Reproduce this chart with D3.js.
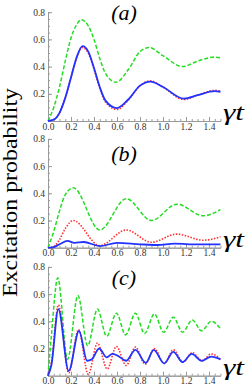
<!DOCTYPE html>
<html>
<head>
<meta charset="utf-8">
<script src="https://cdn.jsdelivr.net/npm/d3@7"></script>
<style>
  body { margin: 0; background: #fff; }
  .axis path, .axis line { stroke: #999; }
  .axis text { fill: #333; }
</style>
</head>
<body>
<script>
// Tick values
var xTicks = [0, 0.2, 0.4, 0.6, 0.8, 1.0, 1.2, 1.4];
var yTicks = [0.2, 0.4, 0.6, 0.8];
var panelLabels = ["(a)", "(b)", "(c)"];

// Panel (a): [gamma t, probability]
var aGreen = [[0,0],[0.05,0.1],[0.1,0.25],[0.15,0.44],[0.2,0.61],[0.25,0.71],[0.29,0.745],[0.35,0.7],[0.4,0.6],[0.45,0.46],[0.5,0.35],[0.59,0.285],[0.7,0.38],[0.8,0.51],[0.88,0.54],[1.0,0.48],[1.17,0.4],[1.3,0.44],[1.45,0.47],[1.5,0.465]];
var aRed = [[0,0],[0.05,0.01],[0.1,0.06],[0.15,0.17],[0.2,0.32],[0.25,0.47],[0.3,0.54],[0.35,0.5],[0.4,0.38],[0.45,0.24],[0.5,0.14],[0.6,0.085],[0.7,0.155],[0.8,0.26],[0.89,0.295],[1.0,0.25],[1.18,0.158],[1.3,0.19],[1.45,0.225],[1.5,0.22]];
var aBlue = [[0,0],[0.05,0.01],[0.1,0.06],[0.15,0.17],[0.2,0.32],[0.25,0.47],[0.3,0.55],[0.35,0.51],[0.4,0.39],[0.45,0.25],[0.5,0.15],[0.6,0.095],[0.7,0.16],[0.8,0.26],[0.89,0.29],[1.0,0.25],[1.18,0.165],[1.3,0.19],[1.45,0.22],[1.5,0.215]];

// Panel (b)
var bGreen = [[0,0],[0.05,0.12],[0.1,0.27],[0.15,0.39],[0.22,0.44],[0.45,0.13],[0.68,0.36],[0.9,0.2],[1.12,0.32],[1.35,0.235],[1.5,0.28]];
var bRed = [[0,0],[0.05,0.01],[0.1,0.06],[0.15,0.14],[0.22,0.2],[0.45,0.015],[0.68,0.13],[0.9,0.04],[1.12,0.1],[1.35,0.055],[1.5,0.08]];
var bBlue = [[0,0],[0.05,0.005],[0.1,0.025],[0.17,0.05],[0.23,0.035],[0.31,0.042],[0.45,0.012],[0.6,0.035],[0.8,0.025],[0.95,0.02],[1.1,0.03],[1.3,0.024],[1.5,0.025]];

// Panel (c)
var cGreen = [[0,0],[0.03,0.3],[0.085,0.72],[0.17,0.12],[0.26,0.59],[0.345,0.22],[0.43,0.49],[0.51,0.29],[0.595,0.46],[0.675,0.3],[0.76,0.46],[0.84,0.31],[0.925,0.455],[1.005,0.32],[1.09,0.43],[1.17,0.32],[1.255,0.41],[1.335,0.33],[1.42,0.4],[1.5,0.345]];
var cRed = [[0,0],[0.03,0.1],[0.09,0.52],[0.18,0.02],[0.265,0.34],[0.35,0.01],[0.43,0.24],[0.515,0.05],[0.595,0.215],[0.68,0.075],[0.76,0.21],[0.845,0.085],[0.925,0.2],[1.01,0.09],[1.09,0.19],[1.175,0.1],[1.255,0.17],[1.34,0.11],[1.42,0.16],[1.5,0.12]];
var cBlue = [[0,0],[0.03,0.08],[0.09,0.49],[0.18,0.035],[0.27,0.33],[0.34,0.11],[0.38,0.12],[0.445,0.2],[0.51,0.135],[0.56,0.16],[0.6,0.15],[0.68,0.11],[0.76,0.19],[0.85,0.095],[0.92,0.19],[1.01,0.09],[1.09,0.175],[1.17,0.1],[1.25,0.16],[1.335,0.11],[1.42,0.14],[1.5,0.12]];

var panels = [
  { label: panelLabels[0], base: 121, titleY: 20, green: aGreen, red: aRed, blue: aBlue },
  { label: panelLabels[1], base: 247.7, titleY: 161, green: bGreen, red: bRed, blue: bBlue },
  { label: panelLabels[2], base: 375.7, titleY: 285, green: cGreen, red: cRed, blue: cBlue }
];

var serif = "Liberation Serif";

var svgWidth = 245;
var svgHeight = 389;

var svg = d3.select("body")
  .append("svg")
  .attr("width", svgWidth)
  .attr("height", svgHeight);

// Shared x scale
var xScale = d3.scaleLinear()
  .domain([0, 1.5])
  .range([48, 220.5]);

var xMinor = d3.range(0, 1.5001, 0.05);
var yMinor = d3.range(0, 0.8001, 0.05);

panels.forEach(function(p) {
  var yScale = d3.scaleLinear()
    .domain([0, 0.8])
    .range([p.base, p.base - 108.8]);

  var g = svg.append("g");

  // minor ticks
  g.append("g")
    .classed("axis", true)
    .attr("transform", "translate(0," + p.base + ")")
    .call(d3.axisBottom(xScale).tickValues(xMinor).tickSize(-2).tickSizeOuter(0).tickFormat(""));
  g.append("g")
    .classed("axis", true)
    .attr("transform", "translate(" + xScale(0) + ",0)")
    .call(d3.axisLeft(yScale).tickValues(yMinor).tickSize(-2).tickSizeOuter(0).tickFormat(""));

  // major ticks
  g.append("g")
    .classed("axis", true)
    .attr("transform", "translate(0," + p.base + ")")
    .call(d3.axisBottom(xScale).tickValues(xTicks).tickSize(-4).tickSizeOuter(0).tickPadding(2).tickFormat(d3.format(".1f")))
    .attr("font-family", serif)
    .attr("font-size", 9.5);
  g.append("g")
    .classed("axis", true)
    .attr("transform", "translate(" + xScale(0) + ",0)")
    .call(d3.axisLeft(yScale).tickValues(yTicks).tickSize(-4).tickSizeOuter(0).tickPadding(3).tickFormat(d3.format(".1f")))
    .attr("font-family", serif)
    .attr("font-size", 9.5);

  var line = d3.line()
    .x(d => xScale(d[0]))
    .y(d => yScale(d[1]))
    .curve(d3.curveMonotoneX);

  g.append("path")
    .attr("d", line(p.green))
    .attr("fill", "none")
    .attr("stroke", "#22dd22")
    .attr("stroke-width", 1.5)
    .attr("stroke-dasharray", "4,2");

  g.append("path")
    .attr("d", line(p.red))
    .attr("fill", "none")
    .attr("stroke", "#ff3030")
    .attr("stroke-width", 1.6)
    .attr("stroke-dasharray", "1.5,1.5");

  g.append("path")
    .attr("d", line(p.blue))
    .attr("fill", "none")
    .attr("stroke", "#2233ff")
    .attr("stroke-width", 1.8);

  // panel label
  g.append("text")
    .attr("x", 124)
    .attr("y", p.titleY)
    .attr("text-anchor", "middle")
    .attr("font-family", serif)
    .attr("font-style", "italic")
    .attr("font-size", 22)
    .text(p.label);

  // gamma t
  g.append("text")
    .attr("x", 223)
    .attr("y", p.base - 1)
    .attr("textLength", 21)
    .attr("lengthAdjust", "spacingAndGlyphs")
    .attr("font-family", serif)
    .attr("font-style", "italic")
    .attr("font-size", 23)
    .text("γt");
});

// y axis title
svg.append("text")
  .attr("transform", "translate(17,192.5) rotate(-90)")
  .attr("text-anchor", "middle")
  .attr("textLength", 209)
  .attr("lengthAdjust", "spacingAndGlyphs")
  .attr("font-family", serif)
  .attr("font-size", 20)
  .text("Excitation probability");
</script>
</body>
</html>
